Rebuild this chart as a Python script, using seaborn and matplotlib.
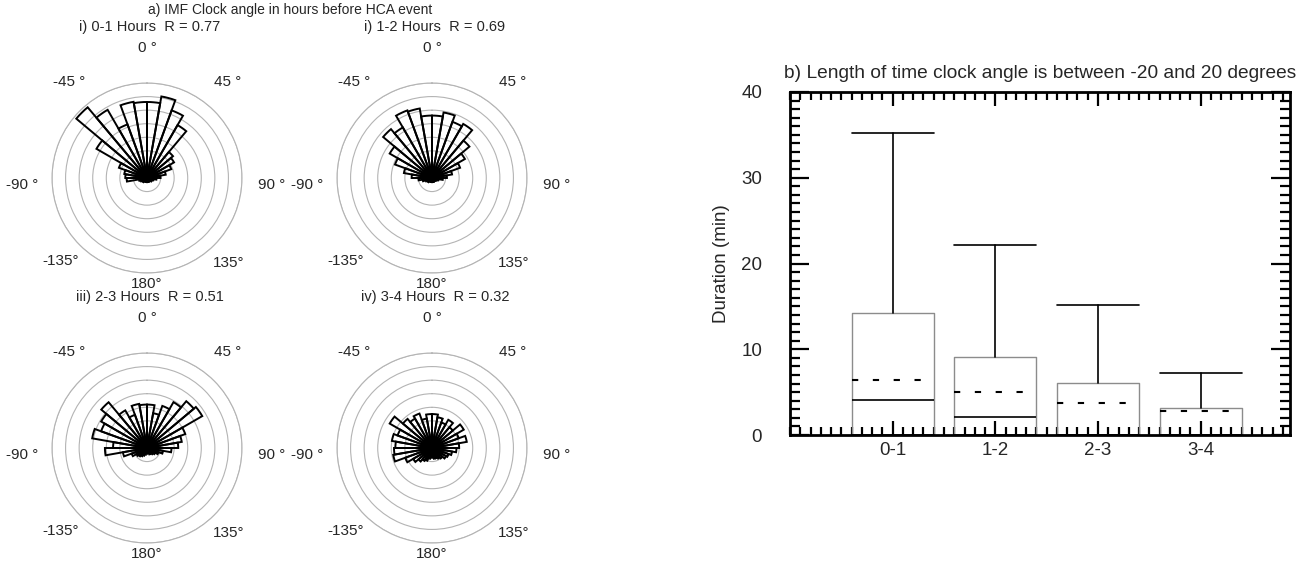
import numpy as np
import matplotlib
matplotlib.use('Agg')
import matplotlib.pyplot as plt
import seaborn as sns
from matplotlib.ticker import MultipleLocator, FixedLocator

sns.set_theme(style='white')
plt.rcParams['font.family'] = ['Liberation Sans', 'DejaVu Sans']

# rose histograms of IMF clock angle, 10 degree bins (bin centres in degrees)
bin_deg = list(range(-175, 180, 10))

rose_0_1 = [0.3, 0.3, 0.3, 0.3, 0.4, 0.4, 0.5, 0.6, 1.5,
            1.6, 1.7, 2.2, 4.3, 6.8, 5.8, 4.2, 5.7, 5.6,
            5.6, 6.1, 5.3, 4.5, 2.5, 2.3, 1.9, 1.4, 1.0,
            0.7, 0.5, 0.4, 0.4, 0.3, 0.3, 0.3, 0.3, 0.3]
rose_1_2 = [0.3, 0.3, 0.3, 0.3, 0.4, 0.4, 0.5, 0.7, 1.0,
            1.5, 2.1, 2.9, 3.6, 4.7, 4.3, 5.3, 5.2, 4.6,
            4.6, 4.9, 4.4, 4.6, 3.6, 2.8, 2.2, 1.5, 1.1,
            0.8, 0.5, 0.4, 0.3, 0.3, 0.3, 0.3, 0.3, 0.3]
rose_2_3 = [0.4, 0.5, 0.6, 0.7, 0.8, 0.9, 1.2, 1.8, 3.1,
            2.5, 4.1, 3.6, 3.9, 4.4, 3.2, 2.6, 3.3, 3.2,
            3.2, 2.6, 3.3, 3.9, 4.5, 4.7, 3.0, 2.6, 2.3,
            1.8, 1.2, 0.9, 0.7, 0.6, 0.5, 0.5, 0.4, 0.4]
rose_3_4 = [0.7, 0.8, 1.0, 1.1, 1.3, 1.6, 2.1, 2.9, 2.8,
            2.7, 3.0, 2.7, 3.6, 2.8, 2.5, 2.7, 2.2, 2.5,
            2.5, 2.3, 2.0, 2.4, 2.0, 2.7, 2.1, 2.6, 2.0,
            1.8, 1.5, 1.3, 1.2, 1.0, 0.9, 0.8, 0.8, 0.7]

rose_titles = ['i) 0-1 Hours  R = 0.77', 'i) 1-2 Hours  R = 0.69',
               'iii) 2-3 Hours  R = 0.51', 'iv) 3-4 Hours  R = 0.32']
angle_labels = ['0 °', '45 °', '90 °', '135°', '180°', '-135°', '-90 °', '-45 °']
# where each angle label sits (angle in degrees, radius in ring units)
label_theta = [0, 40, 93, 136, 180, -134, -93, -39]
label_r = [9.6, 9.2, 9.2, 8.7, 7.8, 8.8, 9.2, 9.1]

# duration box plot summary values (minutes)
hour_bins = ['0-1', '1-2', '2-3', '3-4']
dur_q1 = [0.0, 0.0, 0.0, 0.0]
dur_median = [4.1, 2.1, 0.0, 0.0]
dur_mean = [6.4, 5.0, 3.7, 2.85]
dur_q3 = [14.2, 9.1, 6.1, 3.1]
dur_max = [35.2, 22.2, 15.2, 7.2]

W, H = 1306, 563
fig = plt.figure(figsize=(W / 100, H / 100), dpi=100)


def rose(ax, counts):
    theta = np.deg2rad(bin_deg)
    ax.bar(theta, counts, width=np.deg2rad(10), bottom=0, fill=False,
           edgecolor='black', linewidth=1.4, align='center')
    ax.set_theta_zero_location('N')
    ax.set_theta_direction(-1)
    ax.set_ylim(0, 7)
    ax.set_yticks(range(1, 8))
    ax.set_yticklabels([])
    ax.set_xticks([])
    ax.xaxis.grid(False)
    ax.yaxis.grid(True, color='#b4b4b4', lw=0.8)
    ax.spines['polar'].set_color('#b4b4b4')
    ax.spines['polar'].set_linewidth(0.8)
    ax.set_facecolor('none')
    for a, lab, r in zip(label_theta, angle_labels, label_r):
        ax.text(np.deg2rad(a), r, lab, ha='center', va='center', fontsize=11, clip_on=False)


centres = [(147, 178), (432, 178), (147, 448), (432, 448)]
rad = 95
for (cx, cy), counts, title in zip(centres, [rose_0_1, rose_1_2, rose_2_3, rose_3_4], rose_titles):
    ax = fig.add_axes([(cx - rad) / W, (H - cy - rad) / H, 2 * rad / W, 2 * rad / H], projection='polar')
    rose(ax, counts)
    fig.text((cx + 3) / W, 1 - (cy - 151) / H, title, ha='center', va='center', fontsize=10.5)

fig.text(290 / W, 1 - 10 / H, 'a) IMF Clock angle in hours before HCA event',
         ha='center', va='center', fontsize=10)

# box plot of durations
bx = fig.add_axes([790 / W, (H - 435) / H, 500 / W, 343 / H])
stats = []
for lab, q1, med, mn, q3, hi in zip(hour_bins, dur_q1, dur_median, dur_mean, dur_q3, dur_max):
    stats.append(dict(label=lab, q1=q1, med=med, q3=q3, whislo=q1, whishi=hi, mean=mn, fliers=[]))

bx.bxp(stats, positions=range(len(hour_bins)), widths=0.8, capwidths=0.8,
       showmeans=True, meanline=True, showfliers=False,
       boxprops=dict(color='#8c8c8c', lw=1),
       medianprops=dict(color='black', lw=1.2),
       whiskerprops=dict(color='black', lw=1.2),
       capprops=dict(color='black', lw=1.2),
       meanprops=dict(color='black', lw=1.5, linestyle=(0, (3, 7))))

bx.set_xlim(-1.0, 3.87)
bx.set_ylim(0, 40)
bx.xaxis.set_major_locator(FixedLocator(range(len(hour_bins))))
bx.set_xticklabels(hour_bins)
bx.xaxis.set_minor_locator(MultipleLocator(0.1))
bx.yaxis.set_major_locator(MultipleLocator(10))
bx.yaxis.set_minor_locator(MultipleLocator(1))
bx.tick_params(which='both', direction='in', top=True, right=True, bottom=True, left=True,
               color='black', labelsize=13.5, width=1.6)
bx.tick_params(axis='x', which='major', length=10, pad=5)
bx.tick_params(axis='x', which='minor', length=5.5)
bx.tick_params(axis='y', which='major', length=14, pad=20)
bx.tick_params(axis='y', which='minor', length=7.5)
for s in bx.spines.values():
    s.set_linewidth(2)
    s.set_color('black')
bx.set_ylabel('Duration (min)', fontsize=13.5, labelpad=8)
bx.set_facecolor('white')
bx.set_title('b) Length of time clock angle is between -20 and 20 degrees', fontsize=13.8, pad=10)

fig.savefig('out.png', dpi=100, facecolor='white')
